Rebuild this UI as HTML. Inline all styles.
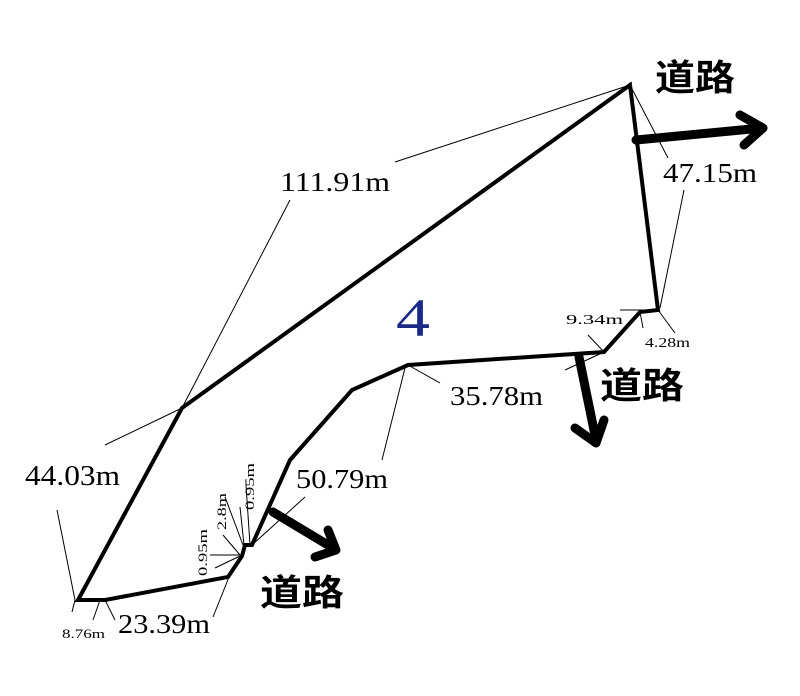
<!DOCTYPE html>
<html><head><meta charset="utf-8"><style>
html,body{margin:0;padding:0;background:#fff;}
svg{display:block}
text{font-family:"Liberation Serif","Noto Serif CJK SC",serif;fill:#000}
.cj{font-family:"Liberation Sans","Noto Sans CJK SC",sans-serif;font-weight:bold}
</style></head><body>
<svg width="800" height="696" viewBox="0 0 800 696" xmlns="http://www.w3.org/2000/svg">
<g stroke="#000" stroke-width="1" fill="none">
<line x1="395" y1="162" x2="630" y2="85"/>
<line x1="290" y1="200" x2="182" y2="408"/>
<line x1="105" y1="445" x2="182" y2="408"/>
<line x1="57" y1="510" x2="75" y2="600"/>
<line x1="75" y1="600" x2="72" y2="612"/>
<line x1="100" y1="600" x2="93" y2="620"/>
<line x1="105" y1="600" x2="115" y2="620"/>
<line x1="213" y1="617" x2="229" y2="577"/>
<line x1="630" y1="85" x2="668" y2="158"/>
<line x1="684" y1="190" x2="660" y2="308"/>
<line x1="620" y1="310" x2="660" y2="310"/>
<line x1="640" y1="312" x2="643" y2="328"/>
<line x1="658" y1="310" x2="675" y2="333"/>
<line x1="588" y1="335" x2="604" y2="352"/>
<line x1="604" y1="352" x2="565" y2="370"/>
<line x1="408" y1="365" x2="440" y2="383"/>
<line x1="382" y1="460" x2="405" y2="368"/>
<line x1="252" y1="545" x2="305" y2="497"/>
<line x1="250" y1="545" x2="246" y2="485"/>
<line x1="244" y1="545" x2="240" y2="507"/>
<line x1="243" y1="545" x2="225" y2="497"/>
<line x1="240" y1="555" x2="223" y2="535"/>
<line x1="240" y1="555" x2="210" y2="555"/>
<line x1="240" y1="556" x2="215" y2="568"/>
</g>
<polygon points="630,85 658,310 640,312 604,352 408,365 352,390 290,460 252,545 245,545 242,556 228,577 105,600 78,600 182,408" fill="none" stroke="#000" stroke-width="4" stroke-linejoin="miter"/>
<g stroke="#000" stroke-width="9" fill="none" stroke-linecap="round" stroke-linejoin="round">
<line x1="636" y1="140" x2="762" y2="128"/>
<polyline points="740,115 763,128 744,145"/>
<line x1="579" y1="357" x2="596" y2="440"/>
<polyline points="575,428 596,443 604,420"/>
<line x1="273" y1="512" x2="333" y2="548"/>
<polyline points="328,530 336,550 315,557"/>
</g>
<text x="396" y="336" font-size="54" textLength="34" lengthAdjust="spacingAndGlyphs" style="fill:#1a2888">4</text>
<text x="280" y="191" font-size="27" textLength="110" lengthAdjust="spacingAndGlyphs">111.91m</text>
<text x="663" y="182" font-size="27" textLength="94" lengthAdjust="spacingAndGlyphs">47.15m</text>
<text x="450" y="405" font-size="27" textLength="93" lengthAdjust="spacingAndGlyphs">35.78m</text>
<text x="296" y="488" font-size="27" textLength="92" lengthAdjust="spacingAndGlyphs">50.79m</text>
<text x="25" y="485" font-size="28" textLength="95" lengthAdjust="spacingAndGlyphs">44.03m</text>
<text x="118" y="633" font-size="27" textLength="92" lengthAdjust="spacingAndGlyphs">23.39m</text>
<text x="62" y="638" font-size="13" textLength="43" lengthAdjust="spacingAndGlyphs">8.76m</text>
<text x="566" y="324" font-size="14" textLength="57" lengthAdjust="spacingAndGlyphs">9.34m</text>
<text x="645" y="347" font-size="14" textLength="45" lengthAdjust="spacingAndGlyphs">4.28m</text>
<text font-size="13" transform="translate(254,510) rotate(-90)" textLength="47" lengthAdjust="spacingAndGlyphs">0.95m</text>
<text font-size="13" transform="translate(226,530) rotate(-90)" textLength="37" lengthAdjust="spacingAndGlyphs">2.8m</text>
<text font-size="13" transform="translate(207,576) rotate(-90)" textLength="47" lengthAdjust="spacingAndGlyphs">0.95m</text>
<text x="655" y="90" font-size="36" class="cj" textLength="80" lengthAdjust="spacingAndGlyphs">道路</text>
<text x="600" y="398" font-size="36" class="cj" textLength="84" lengthAdjust="spacingAndGlyphs">道路</text>
<text x="260" y="605" font-size="36" class="cj" textLength="84" lengthAdjust="spacingAndGlyphs">道路</text>
</svg>
</body></html>
